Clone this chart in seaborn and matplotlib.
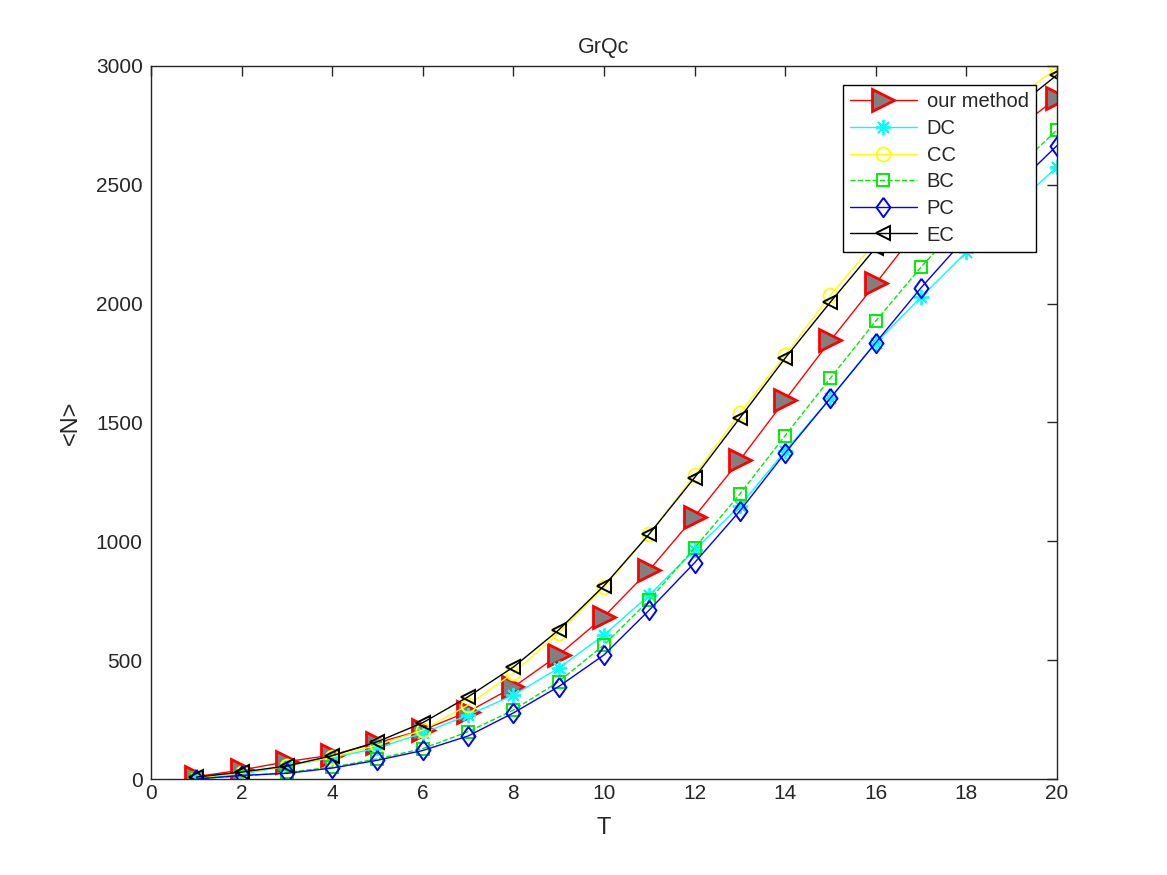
import numpy as np
import pandas as pd
import seaborn as sns
import matplotlib
matplotlib.use("Agg")
import matplotlib.pyplot as plt

T = list(range(1, 21))
our_method = [10, 38, 73, 101, 153, 206, 283, 387, 522, 683, 879, 1104, 1342, 1595, 1845, 2085, 2330, 2530, 2720, 2865]
dc = [5, 20, 55, 90, 130, 193, 269, 353, 467, 606, 774, 963, 1150, 1380, 1603, 1835, 2028, 2217, 2400, 2575]
cc = [5, 25, 55, 93, 143, 206, 311, 446, 614, 808, 1030, 1279, 1540, 1784, 2036, 2260, 2480, 2680, 2850, 2992]
bc = [3, 12, 28, 50, 85, 128, 199, 290, 410, 564, 753, 972, 1199, 1445, 1687, 1927, 2154, 2360, 2550, 2731]
pc = [0, 15, 24, 46, 79, 120, 181, 278, 389, 522, 711, 910, 1128, 1372, 1603, 1836, 2067, 2280, 2480, 2665]
ec = [8, 29, 55, 98, 157, 237, 346, 471, 627, 813, 1031, 1268, 1519, 1771, 2007, 2235, 2445, 2640, 2810, 2962]

series = {"our method": our_method, "DC": dc, "CC": cc, "BC": bc, "PC": pc, "EC": ec}

# matlab-like diamond: a bit taller than wide
diamond = [(0, 1), (0.72, 0), (0, -1), (-0.72, 0), (0, 1)]

styles = {
    "our method": dict(color="red", marker=">", markersize=16, markerfacecolor="gray",
                       markeredgecolor="red", markeredgewidth=2, linestyle="-"),
    "DC": dict(color="cyan", marker=(8, 2, 0), markersize=11, markerfacecolor="cyan",
               markeredgecolor="cyan", markeredgewidth=1.3, linestyle="-"),
    "CC": dict(color="yellow", marker="o", markersize=10, markerfacecolor="none",
               markeredgecolor="yellow", markeredgewidth=1.3, linestyle="-"),
    "BC": dict(color="#00ee00", marker="s", markersize=8, markerfacecolor="none",
               markeredgecolor="#00ee00", markeredgewidth=1.4, linestyle="--"),
    "PC": dict(color="blue", marker=diamond, markersize=14, markerfacecolor="none",
               markeredgecolor="blue", markeredgewidth=1.4, linestyle="-"),
    "EC": dict(color="black", marker="<", markersize=10, markerfacecolor="none",
               markeredgecolor="black", markeredgewidth=1.4, linestyle="-"),
}

df = pd.DataFrame([(t, name, v) for name, vals in series.items() for t, v in zip(T, vals)],
                  columns=["T", "method", "N"])

sns.set_style("white")
plt.rcParams['font.family'] = ['Liberation Sans', 'DejaVu Sans']

fig = plt.figure(figsize=(11.67, 8.75), dpi=100)
ax = fig.add_axes([0.1294, 0.1097, 0.7763, 0.8149])

for name in series:
    sub = df[df["method"] == name]
    sns.lineplot(data=sub, x="T", y="N", ax=ax, label=name, linewidth=1, **styles[name])

ax.set_xlim(0, 20)
ax.set_ylim(0, 3000)
ax.set_xticks(range(0, 21, 2))
ax.set_yticks(range(0, 3001, 500))
ax.tick_params(direction="in", top=True, right=True, labelsize=15, length=7, width=1,
               colors="#262626")
ax.tick_params(axis="y", pad=6)
for s in ax.spines.values():
    s.set_linewidth(1)
    s.set_color("#262626")
ax.set_xlabel("T", fontsize=17, color="#262626", labelpad=10)
ax.set_ylabel("<N>", fontsize=17, color="#262626", labelpad=10)
ax.set_title("GrQc", fontsize=15.5, color="#262626", pad=9)

leg = ax.legend(loc="upper left", bbox_to_anchor=(0.764, 0.973), fontsize=14.5, frameon=True,
                fancybox=False, edgecolor="black", handlelength=3.3, borderaxespad=0,
                labelspacing=0.38, borderpad=0.35, handletextpad=0.5, framealpha=1)
leg.get_frame().set_linewidth(1)

fig.savefig("out.png", dpi=100)
